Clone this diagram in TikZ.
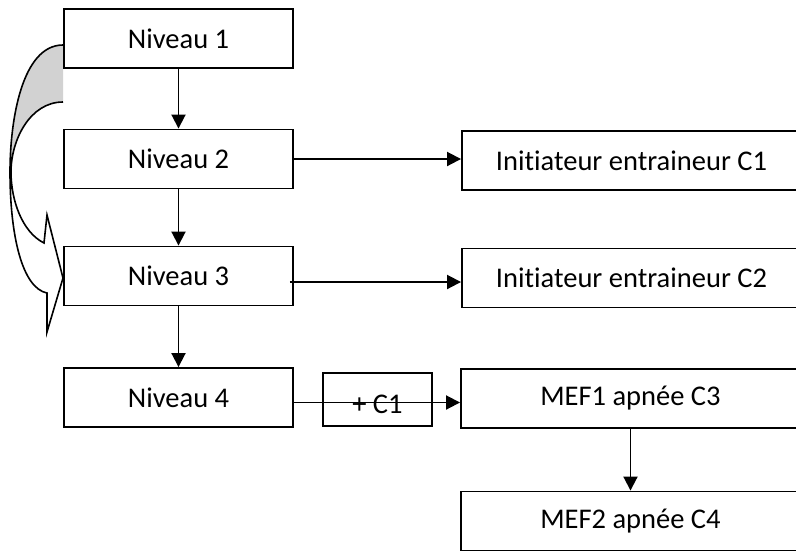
\documentclass[tikz,border=0pt]{standalone}
\usepackage{fontspec}
\setmainfont{Carlito}[Ligatures=NoCommon]
\usetikzlibrary{arrows.meta}

\tikzset{
    box/.style={draw, line width=1.9pt, inner sep=0pt, minimum height=59pt,
        font=\fontsize{28.5}{31}\selectfont},
    level/.style={box, minimum width=229pt},
    diplome/.style={box, minimum width=339pt},
    arr/.style={line width=1.9pt, -{Triangle[length=14pt,width=14pt]}}
}

\begin{document}
\begin{tikzpicture}[x=1pt, y=-1pt]
    \useasboundingbox (0,0) rectangle (796,550);
    \clip (0,0) rectangle (796,550);
    % curved arrow on the left
    \fill[gray!35]
        (63,45) .. controls (22,45) and (10,120) .. (10,172)
        .. controls (11,140) and (30,102) .. (63,102) -- cycle;
    \draw[line width=1.6pt, line join=miter]
        (63,45) .. controls (22,45) and (10,120) .. (10,172)
        .. controls (10,235) and (22,288) .. (47,293)
        -- (47,332) -- (63,278) -- (47,215) -- (44,243)
        .. controls (22,232) and (11,200) .. (11,172)
        .. controls (11,140) and (30,102) .. (63,102);
    \node[level](n1)                at (178.5,38.5) {Niveau 1};
    \node[level](n2)                at (178.5,159) {Niveau 2};
    \node[level](n3)                at (178.5,276) {Niveau 3};
    \node[level](n4)                at (178.5,397.5) {Niveau 4};
    \node[diplome](c1)              at (631.5,160.5) {Initiateur entraineur C1};
    \node[diplome](c2)              at (631.5,278) {Initiateur entraineur C2};
    \node[diplome](mef1)            at (630.5,398.5) {MEF1 apnée C3};
    \node[diplome](mef2)            at (630.5,521) {MEF2 apnée C4};
    \node[box, minimum width=109pt, minimum height=53pt,
          text height=28pt, text depth=0pt](plus)
                                    at (377.5,399.5) {+ C1};
    % Transitions
    \path
        (n1)
            edge [arr] (n2)
        (n2)
            edge [arr] (n3)
            edge [arr] (n2.east -| c1.west)
        (n3)
            edge [arr] (n4)
        ([xshift=-4pt,yshift=-6pt]n3.east)
            edge [arr] ([yshift=-6pt]n3.east -| c2.west)
        ([yshift=-5pt]n4.east)
            edge [arr] ([yshift=-5pt]n4.east -| mef1.west)
        (mef1)
            edge [arr] (mef2)
        ;
\end{tikzpicture}
\end{document}
